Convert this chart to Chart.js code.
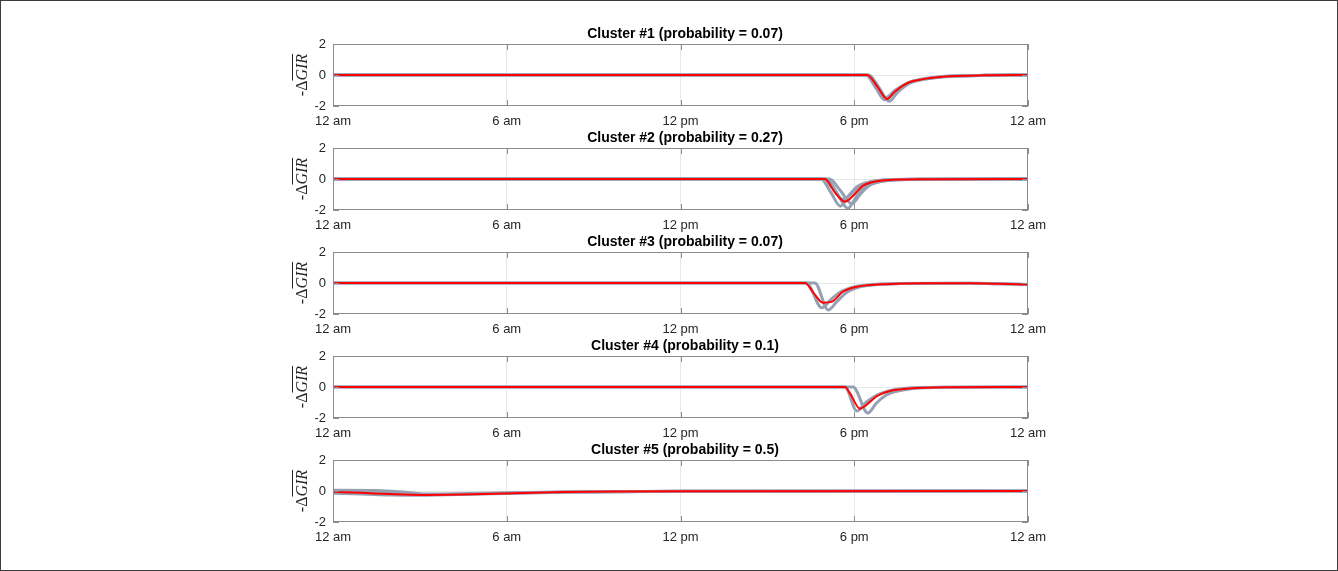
<!DOCTYPE html>
<html>
<head>
<meta charset="utf-8">
<script src="https://cdn.jsdelivr.net/npm/chart.js@4.4.1/dist/chart.umd.min.js"></script>
<style>
body { margin: 0; background: #fff; }
#page { position: relative; width: 1338px; height: 571px; overflow: hidden; background: #fff; }
#frame { position: absolute; left: 0; top: 0; width: 1338px; height: 571px; box-sizing: border-box; border: 1px solid #3c3c3c; pointer-events: none; }
canvas.panel { position: absolute; }
.ylab { position: absolute; width: 70px; height: 18px; line-height: 18px; text-align: center; font-family: 'Liberation Serif', 'DejaVu Serif', serif; font-size: 16px; color: #262626; transform: rotate(-90deg); white-space: nowrap; }
.ylab i { text-decoration: overline; }
</style>
</head>
<body>
<div id="page"><div id="frame"></div></div>
<script>
// tick labels / titles
const xTickLabels = ['12 am', '6 am', '12 pm', '6 pm', '12 am'];
const yTicks = [-2, 0, 2];
const titles = [
    'Cluster #1 (probability = 0.07)',
    'Cluster #2 (probability = 0.27)',
    'Cluster #3 (probability = 0.07)',
    'Cluster #4 (probability = 0.1)',
    'Cluster #5 (probability = 0.5)'
];

// Cluster 1
const c1MeanHours = [0, 18.45, 18.8, 19.13, 19.4, 19.68, 19.93, 20.27, 20.8, 21.3, 22.5, 24];
const c1MeanVals  = [0, 0, -0.75, -1.55, -1.08, -0.69, -0.45, -0.3, -0.16, -0.08, -0.02, 0];
const c1G1Hours = [0, 18.4, 18.75, 19.05, 19.35, 19.65, 19.9, 20.3, 20.8, 21.4, 22.5, 24];
const c1G1Vals  = [0, 0, -0.85, -1.6, -1.15, -0.72, -0.47, -0.3, -0.16, -0.07, -0.02, 0];
const c1G2Hours = [0, 18.5, 18.85, 19.2, 19.5, 19.75, 20.0, 20.35, 20.9, 21.4, 22.5, 24];
const c1G2Vals  = [0, 0, -0.8, -1.7, -1.1, -0.72, -0.46, -0.3, -0.16, -0.08, -0.02, 0];
const c1G3Hours = [0, 18.45, 18.8, 19.1, 19.4, 19.7, 19.95, 20.3, 20.8, 21.3, 22.5, 24];
const c1G3Vals  = [0, 0, -0.7, -1.45, -1.0, -0.66, -0.43, -0.28, -0.15, -0.07, -0.02, 0];

// Cluster 2
const c2MeanHours = [0, 16.99, 17.33, 17.68, 17.97, 18.31, 18.77, 19.34, 20.5, 24];
const c2MeanVals  = [0, 0, -0.86, -1.46, -1.07, -0.43, -0.15, -0.05, -0.01, 0];
const c2G1Hours = [0, 16.85, 17.2, 17.52, 17.8, 18.1, 18.5, 19.0, 19.8, 24];
const c2G1Vals  = [0, 0, -0.9, -1.75, -1.1, -0.5, -0.2, -0.07, -0.02, 0];
const c2G2Hours = [0, 17.05, 17.4, 17.78, 18.05, 18.4, 18.85, 19.4, 20.3, 24];
const c2G2Vals  = [0, 0, -0.9, -1.9, -1.2, -0.5, -0.18, -0.06, -0.02, 0];
const c2G3Hours = [0, 17.15, 17.5, 17.92, 18.2, 18.5, 18.9, 19.5, 20.5, 24];
const c2G3Vals  = [0, 0, -0.7, -1.6, -1.0, -0.45, -0.17, -0.05, -0.01, 0];
const c2G4Hours = [0, 16.9, 17.25, 17.6, 17.9, 18.25, 18.7, 19.3, 20.3, 24];
const c2G4Vals  = [0, 0, -0.6, -1.3, -0.95, -0.4, -0.14, -0.04, -0.01, 0];

// Cluster 3
const c3MeanHours = [0, 16.3, 16.58, 16.92, 17.23, 17.61, 18.09, 19.23, 20.5, 22, 23, 24];
const c3MeanVals  = [0, 0, -0.6, -1.27, -1.2, -0.56, -0.24, -0.06, -0.02, -0.02, -0.05, -0.1];
const c3G1Hours = [0, 16.35, 16.88, 17.2, 17.55, 18.0, 18.6, 19.5, 22, 23, 24];
const c3G1Vals  = [0, 0, -1.6, -1.05, -0.55, -0.25, -0.1, -0.04, -0.02, -0.05, -0.1];
const c3G2Hours = [0, 16.64, 17.1, 17.4, 17.75, 18.2, 18.8, 19.6, 22, 23, 24];
const c3G2Vals  = [0, 0, -1.74, -1.2, -0.6, -0.25, -0.1, -0.04, -0.02, -0.05, -0.1];

// Cluster 4
const c4MeanHours = [0, 17.68, 17.85, 18.2, 18.37, 18.79, 19.23, 19.92, 21.3, 24];
const c4MeanVals  = [0, 0, -0.4, -1.4, -1.23, -0.58, -0.26, -0.1, -0.02, 0];
const c4G1Hours = [0, 17.68, 18.09, 18.4, 18.8, 19.3, 20.0, 21.3, 24];
const c4G1Vals  = [0, 0, -1.55, -1.0, -0.5, -0.2, -0.05, -0.01, 0];
const c4G2Hours = [0, 17.96, 18.47, 18.77, 19.12, 19.46, 20.03, 21.3, 24];
const c4G2Vals  = [0, 0, -1.68, -1.03, -0.5, -0.28, -0.1, -0.02, 0];

// Cluster 5
const c5MeanHours = [0, 1, 2, 3.1, 4, 5.87, 8, 10, 12, 24];
const c5MeanVals  = [-0.05, -0.12, -0.2, -0.25, -0.24, -0.16, -0.07, -0.03, -0.01, 0];
const c5G1Hours = [0, 1.5, 2.5, 3.2, 5, 8, 12, 24];
const c5G1Vals  = [0.05, 0.04, -0.08, -0.2, -0.15, -0.06, -0.01, 0];
const c5G2Hours = [0, 1, 2, 3, 5, 8, 12, 24];
const c5G2Vals  = [-0.15, -0.2, -0.26, -0.28, -0.2, -0.08, -0.02, 0];
const c5G3Hours = [0, 1, 2, 3, 5, 8, 12, 24];
const c5G3Vals  = [-0.02, -0.08, -0.15, -0.22, -0.17, -0.07, -0.01, 0];

const clusters = [
    { mean: [c1MeanHours, c1MeanVals], grays: [[c1G1Hours, c1G1Vals], [c1G2Hours, c1G2Vals], [c1G3Hours, c1G3Vals]] },
    { mean: [c2MeanHours, c2MeanVals], grays: [[c2G1Hours, c2G1Vals], [c2G2Hours, c2G2Vals], [c2G3Hours, c2G3Vals], [c2G4Hours, c2G4Vals]] },
    { mean: [c3MeanHours, c3MeanVals], grays: [[c3G1Hours, c3G1Vals], [c3G2Hours, c3G2Vals]] },
    { mean: [c4MeanHours, c4MeanVals], grays: [[c4G1Hours, c4G1Vals], [c4G2Hours, c4G2Vals]] },
    { mean: [c5MeanHours, c5MeanVals], grays: [[c5G1Hours, c5G1Vals], [c5G2Hours, c5G2Vals], [c5G3Hours, c5G3Vals]] }
];

const zip = (hs, vs) => hs.map((h, i) => ({ x: h, y: vs[i] }));

// box + inward ticks, matlab style
const boxPlugin = {
    id: 'box',
    afterDraw(chart) {
        const { ctx, chartArea: a, scales } = chart;
        ctx.save();
        ctx.strokeStyle = '#8c8c8c';
        ctx.lineWidth = 1;
        ctx.strokeRect(a.left + 0.5, a.top + 0.5, a.right - a.left - 1, a.bottom - a.top - 1);
        ctx.beginPath();
        scales.x.ticks.forEach(t => {
            const px = Math.round(scales.x.getPixelForValue(t.value)) + 0.5;
            ctx.moveTo(px, a.bottom); ctx.lineTo(px, a.bottom - 6);
            ctx.moveTo(px, a.top); ctx.lineTo(px, a.top + 6);
        });
        scales.y.ticks.forEach(t => {
            const py = Math.round(scales.y.getPixelForValue(t.value)) + 0.5;
            ctx.moveTo(a.left, py); ctx.lineTo(a.left + 6, py);
            ctx.moveTo(a.right, py); ctx.lineTo(a.right - 6, py);
        });
        ctx.stroke();
        ctx.restore();
    }
};

const page = document.getElementById('page');
const tickFont = { family: "'Liberation Sans', Arial, sans-serif", size: 13 };

clusters.forEach((cl, i) => {
    const top = 44 + 104 * i; // plot area top

    const cv = document.createElement('canvas');
    cv.className = 'panel';
    cv.width = 804; cv.height = 110;
    cv.style.left = '283px';
    cv.style.top = (top - 22) + 'px';
    cv.style.width = '804px'; cv.style.height = '110px';
    page.appendChild(cv);

    const lab = document.createElement('div');
    lab.className = 'ylab';
    lab.innerHTML = '-&Delta;<i>GIR</i>';
    lab.style.left = (302 - 35) + 'px';
    lab.style.top = (top + 31 - 9) + 'px';
    page.appendChild(lab);

    const datasets = [{
        data: zip(cl.mean[0], cl.mean[1]),
        borderColor: '#ff0000', borderWidth: 2, order: 0
    }];
    cl.grays.forEach(g => datasets.push({
        data: zip(g[0], g[1]),
        borderColor: '#95a1b3', borderWidth: 3, order: 1
    }));

    new Chart(cv, {
        type: 'line',
        data: { datasets },
        options: {
            responsive: false,
            animation: false,
            elements: { point: { radius: 0 }, line: { cubicInterpolationMode: 'monotone' } },
            layout: { padding: 0 },
            plugins: {
                legend: { display: false },
                tooltip: { enabled: false },
                title: {
                    display: true,
                    text: titles[i],
                    color: '#000',
                    font: { family: "'Liberation Sans', Arial, sans-serif", size: 14, weight: 'bold', lineHeight: '16px' },
                    padding: { top: 4, bottom: 2 }
                }
            },
            scales: {
                x: {
                    type: 'linear', min: 0, max: 24,
                    afterFit: s => { s.height = 26; },
                    ticks: {
                        stepSize: 6, autoSkip: false, maxRotation: 0, padding: 8,
                        color: '#262626', font: tickFont,
                        callback: v => xTickLabels[v / 6]
                    },
                    grid: {
                        drawTicks: false,
                        color: c => (c.tick && c.tick.value > 0 && c.tick.value < 24) ? 'rgba(0,0,0,0.09)' : 'rgba(0,0,0,0)'
                    },
                    border: { display: false }
                },
                y: {
                    min: yTicks[0], max: yTicks[yTicks.length - 1],
                    afterFit: s => { s.width = 50; },
                    afterBuildTicks: s => { s.ticks = yTicks.map(v => ({ value: v })); },
                    ticks: { padding: 7, color: '#262626', font: tickFont },
                    grid: {
                        drawTicks: false,
                        color: c => (c.tick && c.tick.value === 0) ? 'rgba(0,0,0,0.09)' : 'rgba(0,0,0,0)'
                    },
                    border: { display: false }
                },
                // empty right-hand scale so the title centres where the reference has it
                yr: {
                    position: 'right', min: -2, max: 2,
                    afterFit: s => { s.width = 59; },
                    ticks: { display: false },
                    grid: { display: false },
                    border: { display: false }
                }
            }
        },
        plugins: [boxPlugin]
    });
});
</script>
</body>
</html>
